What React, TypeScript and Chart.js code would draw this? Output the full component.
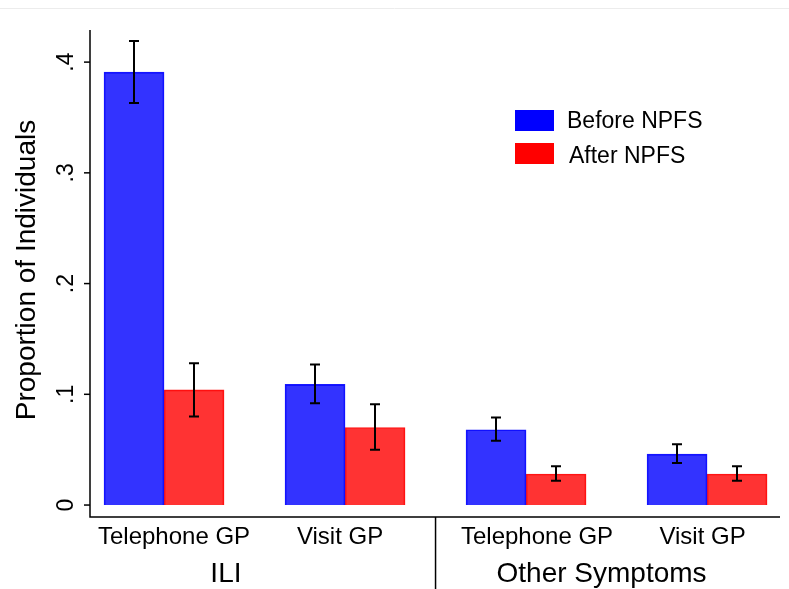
import React, { useEffect, useRef } from 'react';
import { Chart, registerables } from 'chart.js';

Chart.register(...registerables);

const categories = ['Telephone GP', 'Visit GP', 'Telephone GP', 'Visit GP'];
const groups = ['ILI', 'Other Symptoms'];
const seriesNames = ['Before NPFS', 'After NPFS'];
const before = [0.391, 0.109, 0.068, 0.046];
const beforeLow = [0.363, 0.092, 0.058, 0.038];
const beforeHigh = [0.419, 0.127, 0.079, 0.055];
const after = [0.104, 0.070, 0.028, 0.028];
const afterLow = [0.080, 0.050, 0.022, 0.022];
const afterHigh = [0.128, 0.091, 0.035, 0.035];
const yTicks = [0, 0.1, 0.2, 0.3, 0.4];
const yTickLabels = ['0', '.1', '.2', '.3', '.4'];

const FONT = '"Liberation Sans", Arial, Helvetica, sans-serif';

export default function App() {
  const ref = useRef<HTMLCanvasElement>(null);

  useEffect(() => {
    if (!ref.current) return;

    const overlay = {
      id: 'overlay',
      afterDatasetsDraw(chart: any) {
        const ctx = chart.ctx as CanvasRenderingContext2D;
        const xs = chart.scales.x;
        const ys = chart.scales.y;
        const area = chart.chartArea;
        ctx.save();

        // faint top border
        ctx.strokeStyle = '#ececec';
        ctx.lineWidth = 1;
        ctx.beginPath();
        ctx.moveTo(0, 8.5);
        ctx.lineTo(789, 8.5);
        ctx.stroke();

        // error bars
        ctx.strokeStyle = '#000';
        ctx.lineWidth = 2;
        const drawErr = (xv: number, lo: number, hi: number) => {
          const x = Math.round(xv) + 0.0;
          const y1 = ys.getPixelForValue(lo);
          const y2 = ys.getPixelForValue(hi);
          ctx.beginPath();
          ctx.moveTo(x, y1);
          ctx.lineTo(x, y2);
          ctx.moveTo(x - 5, y1);
          ctx.lineTo(x + 5, y1);
          ctx.moveTo(x - 5, y2);
          ctx.lineTo(x + 5, y2);
          ctx.stroke();
        };
        const m0 = chart.getDatasetMeta(0).data;
        const m1 = chart.getDatasetMeta(1).data;
        categories.forEach((_, i) => {
          drawErr(m0[i].x, beforeLow[i], beforeHigh[i]);
          drawErr(m1[i].x, afterLow[i], afterHigh[i]);
        });

        // axes
        ctx.lineWidth = 1.5;
        ctx.strokeStyle = '#000';
        ctx.beginPath();
        ctx.moveTo(area.left, area.top);
        ctx.lineTo(area.left, area.bottom);
        ctx.lineTo(area.right, area.bottom);
        ctx.stroke();

        // separator between groups
        const sepX = xs.getPixelForValue(2.5);
        ctx.beginPath();
        ctx.moveTo(sepX, area.bottom);
        ctx.lineTo(sepX, 589);
        ctx.stroke();

        // y ticks and labels
        ctx.fillStyle = '#000';
        ctx.font = `23px ${FONT}`;
        ctx.textAlign = 'center';
        ctx.textBaseline = 'alphabetic';
        yTicks.forEach((v, i) => {
          const y = ys.getPixelForValue(v);
          ctx.beginPath();
          ctx.moveTo(area.left - 6, y);
          ctx.lineTo(area.left, y);
          ctx.stroke();
          ctx.save();
          ctx.translate(72.5, y);
          ctx.rotate(-Math.PI / 2);
          ctx.fillText(yTickLabels[i], 0, 0);
          ctx.restore();
        });

        // y title
        ctx.save();
        ctx.font = `28px ${FONT}`;
        ctx.translate(35, 270);
        ctx.rotate(-Math.PI / 2);
        ctx.fillText('Proportion of Individuals', 0, 0);
        ctx.restore();

        // category labels
        const catOffsets = [10, -5, 11, -4.5];
        ctx.font = `24px ${FONT}`;
        categories.forEach((c, i) => {
          ctx.fillText(c, xs.getPixelForValue(i + 1) + catOffsets[i], 544);
        });

        // group labels
        ctx.font = `28px ${FONT}`;
        const groupPos = [1.342, 3.417];
        groups.forEach((g, i) => {
          ctx.fillText(g, xs.getPixelForValue(groupPos[i]), 582);
        });

        // legend
        const colors = ['#0000ff', '#ff0000'];
        const swY = [110, 143];
        const txY = [128, 163];
        const txX = [567, 569];
        ctx.font = `23px ${FONT}`;
        ctx.textAlign = 'left';
        seriesNames.forEach((n, i) => {
          ctx.fillStyle = colors[i];
          ctx.fillRect(515, swY[i], 39, 21);
          ctx.fillStyle = '#000';
          ctx.fillText(n, txX[i], txY[i]);
        });

        ctx.restore();
      },
    };

    const chart = new Chart(ref.current, {
      type: 'bar',
      data: {
        datasets: [
          {
            label: seriesNames[0],
            data: before.map((v, i) => ({ x: i + 1, y: v })),
            backgroundColor: 'rgba(0,0,255,0.8)',
            borderColor: 'rgba(0,0,255,0.9)',
            borderWidth: 1,
            barThickness: 60,
          },
          {
            label: seriesNames[1],
            data: after.map((v, i) => ({ x: i + 1, y: v })),
            backgroundColor: 'rgba(255,0,0,0.8)',
            borderColor: 'rgba(255,0,0,0.9)',
            borderWidth: 1,
            barThickness: 60,
          },
        ],
      },
      options: {
        responsive: false,
        animation: false,
        layout: { padding: { left: 90, right: 9, top: 30, bottom: 72 } },
        plugins: { legend: { display: false }, tooltip: { enabled: false } },
        scales: {
          x: { type: 'linear', display: false, min: 0.591, max: 4.403, offset: false },
          y: { type: 'linear', display: false, min: -0.0108, max: 0.429 },
        },
      },
      plugins: [overlay],
    } as any);

    return () => chart.destroy();
  }, []);

  return (
    <div style={{ position: 'fixed', left: 0, top: 0, width: 789, height: 589, background: '#fff' }}>
      <canvas ref={ref} width={789} height={589} style={{ display: 'block' }} />
    </div>
  );
}
